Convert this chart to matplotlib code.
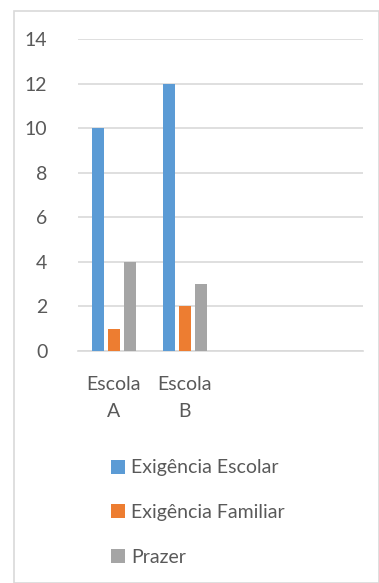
import matplotlib.pyplot as plt
from matplotlib.patches import Rectangle
import numpy as np

# --- Data ---
categories = ['Escola\nA', 'Escola\nB', '', '']
series_names = ['Exigência Escolar', 'Exigência Familiar', 'Prazer']
exigencia_escolar = [10, 12, np.nan, np.nan]
exigencia_familiar = [1, 2, np.nan, np.nan]
prazer = [4, 3, np.nan, np.nan]
y_ticks = [0, 2, 4, 6, 8, 10, 12, 14]

colors = ['#5B9BD5', '#ED7D31', '#A5A5A5']
text_color = '#595959'

plt.rcParams['font.family'] = ['Lato', 'DejaVu Sans']

W, H = 379, 583
fig = plt.figure(figsize=(W / 100, H / 100), dpi=100)

# chart area frame
fig.patches.append(Rectangle((14 / W, 0), 1 - 14 / W - 0.5 / W, 1 - 10 / H - 0.5 / H,
                             transform=fig.transFigure, fill=False,
                             edgecolor='#D9D9D9', linewidth=1.2))

ax = fig.add_axes([78 / W, 232 / H, 285 / W, 312 / H])

x = np.arange(len(categories))
width = 0.168
step = 0.225
all_series = [exigencia_escolar, exigencia_familiar, prazer]
for i, (vals, name) in enumerate(zip(all_series, series_names)):
    ax.bar(x + (i - 1) * step, vals, width, color=colors[i], label=name, zorder=3)

ax.set_xlim(-0.5, len(categories) - 0.5)
ax.set_ylim(0, 14)
ax.set_yticks(y_ticks)
ax.set_xticks(x)
ax.set_xticklabels(categories, linespacing=1.7)
ax.grid(axis='y', color='#D9D9D9', linewidth=1.2, zorder=0)
for s in ['top', 'right', 'left']:
    ax.spines[s].set_visible(False)
ax.spines['bottom'].set_color('#D9D9D9')
ax.spines['bottom'].set_linewidth(1.2)
ax.tick_params(axis='both', length=0, colors=text_color, labelsize=14)
ax.tick_params(axis='y', pad=22)
ax.tick_params(axis='x', pad=18)

handles, labels = ax.get_legend_handles_labels()
fig.legend(handles, labels, loc='upper left', bbox_to_anchor=(93 / W, 1 - 442 / H),
           frameon=False, fontsize=14, labelcolor=text_color,
           handlelength=0.72, handleheight=0.72, handletextpad=0.35, labelspacing=1.42)

fig.savefig('out.png', dpi=100)
